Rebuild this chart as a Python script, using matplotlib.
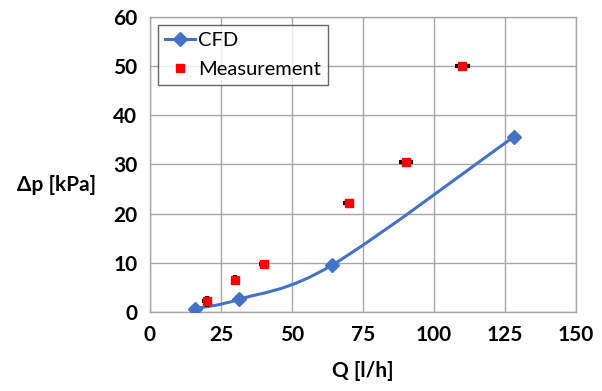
import matplotlib
matplotlib.use("Agg")
import matplotlib.pyplot as plt
from matplotlib.path import Path
from matplotlib.patches import PathPatch
import numpy as np

# CFD results
q_cfd = [16, 31.5, 64, 128]
dp_cfd = [0.7, 2.6, 9.5, 35.6]

# measurements
q_meas = [20, 30, 40, 70, 90, 110]
dp_meas = [2.2, 6.5, 9.7, 22.2, 30.4, 50.1]
q_err = [1.5, 1.5, 1.5, 2.0, 2.5, 2.8]
dp_err = [1.1, 1.1, 0.9, 0.8, 0.7, 0.7]

xticks = [0, 25, 50, 75, 100, 125, 150]
yticks = [0, 10, 20, 30, 40, 50, 60]

blue = "#4472C4"
plt.rcParams["font.family"] = ["Lato", "DejaVu Sans"]

fig = plt.figure(figsize=(6.02, 3.91), dpi=100)
ax = fig.add_axes([0.249, 0.202, 0.708, 0.755])


def smooth_path(xs, ys, t=1.0 / 6):
    # excel-like smoothed line: cubic bezier with catmull-rom control points
    pts = np.column_stack([xs, ys]).astype(float)
    verts = [pts[0]]
    codes = [Path.MOVETO]
    n = len(pts)
    for i in range(n - 1):
        p0 = pts[i - 1] if i > 0 else pts[i]
        p1 = pts[i]
        p2 = pts[i + 1]
        p3 = pts[i + 2] if i + 2 < n else pts[i + 1]
        c1 = p1 + (p2 - p0) * t
        c2 = p2 - (p3 - p1) * t
        verts += [c1, c2, p2]
        codes += [Path.CURVE4] * 3
    return Path(verts, codes)


ax.add_patch(PathPatch(smooth_path(q_cfd, dp_cfd), fill=False,
                       edgecolor=blue, lw=2.2, zorder=3))
ax.plot(q_cfd, dp_cfd, ls="none", marker="D", ms=7, color=blue, zorder=4)
ax.plot([], [], marker="D", ms=7, color=blue, lw=2.2, label="CFD")

ax.errorbar(q_meas, dp_meas, xerr=q_err, yerr=dp_err, fmt="none",
            ecolor="black", elinewidth=3, capsize=0, zorder=5)
ax.plot(q_meas, dp_meas, ls="none", marker="s", ms=6, color="#FF0000",
        zorder=6, label="Measurement")

ax.set_xlim(0, 150)
ax.set_ylim(0, 60)
ax.set_xticks(xticks)
ax.set_yticks(yticks)
ax.grid(True, color="#A6A6A6", lw=1)
ax.set_axisbelow(True)
for s in ax.spines.values():
    s.set_color("#A6A6A6")
    s.set_linewidth(1)
ax.tick_params(length=0, labelsize=15, pad=9)
for lab in ax.get_xticklabels() + ax.get_yticklabels():
    lab.set_fontweight("bold")

ax.set_xlabel("Q [l/h]", fontsize=15, fontweight="bold", labelpad=12)
ax.set_ylabel("Δp [kPa]", fontsize=15, fontweight="bold", rotation=0,
              ha="center", va="center")
ax.yaxis.set_label_coords(-0.22, 0.43)

leg = ax.legend(loc="upper left", fontsize=14.5, frameon=True, fancybox=False,
                borderaxespad=0.4, handlelength=1.5, handletextpad=0.15,
                borderpad=0.35, labelspacing=0.6)
leg.get_frame().set_edgecolor("#404040")
leg.get_frame().set_linewidth(1)

fig.savefig("out.png", dpi=100)
